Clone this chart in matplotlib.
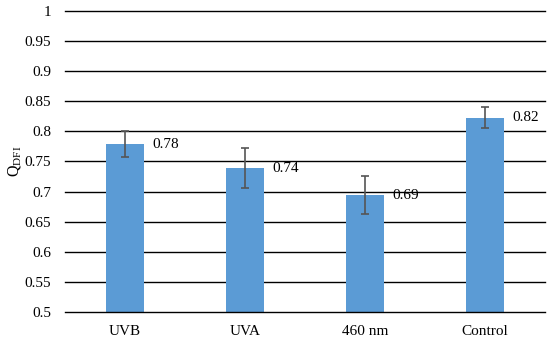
import numpy as np
import matplotlib.pyplot as plt

# donnees
categories = ['UVB', 'UVA', '460 nm', 'Control']
valeurs = [0.779, 0.739, 0.694, 0.823]
erreurs = [0.022, 0.033, 0.032, 0.018]
etiquettes = ['0.78', '0.74', '0.69', '0.82']
yticks = [0.5, 0.55, 0.6, 0.65, 0.7, 0.75, 0.8, 0.85, 0.9, 0.95, 1]

plt.rcParams['font.family'] = ['Liberation Serif', 'DejaVu Serif']

fig = plt.figure(figsize=(5.5, 3.39), dpi=100)
ax = fig.add_axes([0.118, 0.0796, 0.873, 0.888])

x = np.arange(len(categories))
largeur = 0.31
ax.bar(x, valeurs, width=largeur, color='#5B9BD5', zorder=3)
ax.errorbar(x, valeurs, yerr=erreurs, fmt='none', ecolor='#555555',
            elinewidth=1.2, capsize=3, capthick=1.2, zorder=4)

for xi, v, txt in zip(x, valeurs, etiquettes):
    ax.text(xi + largeur / 2 + 0.07, v, txt, fontsize=11, va='center', ha='left')

ax.set_ylim(0.5, 1)
ax.set_xlim(-0.5, 3.5)
ax.set_yticks(yticks)
ax.set_yticklabels([('%g' % t) for t in yticks], fontsize=11)
ax.set_xticks(x)
ax.set_xticklabels(categories, fontsize=11)
ax.tick_params(length=0, pad=10)
ax.tick_params(axis='x', pad=9)
# lignes horizontales (non coupees aux bords)
for t in yticks:
    ax.axhline(t, color='black', linewidth=1.0, zorder=5 if t == 0.5 else 0, clip_on=False)
for s in ax.spines.values():
    s.set_visible(False)
ax.set_ylabel('Q$_{\\mathregular{DFI}}$', fontsize=11.5)
ax.yaxis.set_label_coords(-0.085, 0.5)

fig.savefig('out.png', dpi=100)
